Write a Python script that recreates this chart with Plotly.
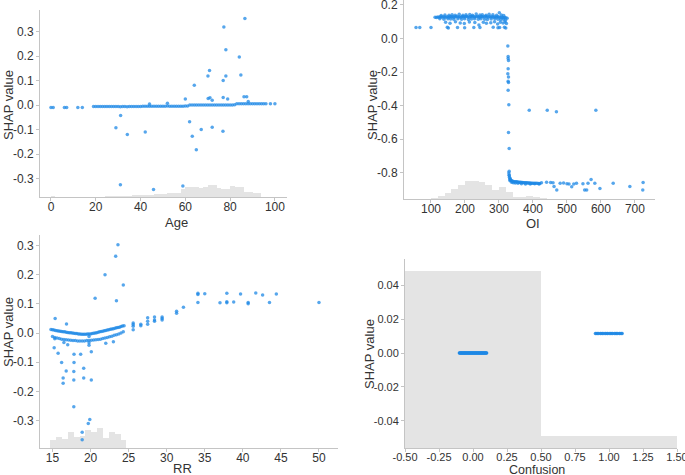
import plotly.graph_objects as go

# ---------------- DATA ----------------
# Panel 1: Age
age_band_x = [0, 1, 6, 7, 12, 14, 19, 20, 21, 22, 23, 24, 25, 26, 27, 28, 29, 30, 31, 32, 33, 34, 35, 36,
              37, 38, 39, 40, 41, 42, 43, 44, 45, 46, 47, 48, 49, 50, 51, 52, 53, 54, 55, 56, 57, 58, 59, 60,
              61, 62, 63, 64, 65, 66, 67, 68, 69, 70, 71, 72, 73, 74, 75, 76, 77, 78, 79, 80, 81, 82, 83, 84,
              85, 86, 87, 88, 89, 90, 91, 92, 93, 94, 95, 96, 98, 100]
age_band_y = [-0.010, -0.010, -0.010, -0.010, -0.010, -0.010, -0.006, -0.006, -0.006, -0.006, -0.006, -0.006,
              -0.006, -0.006, -0.006, -0.006, -0.006, -0.006, -0.007, -0.006, -0.006, -0.007, -0.006, -0.006,
              -0.006, -0.006, -0.006, -0.006, -0.005, -0.005, -0.005, -0.005, -0.005, -0.005, -0.005, -0.005,
              -0.005, -0.005, -0.005, -0.004, -0.005, -0.005, -0.005, -0.005, -0.005, -0.005, -0.005, -0.004,
              -0.004, 0.000, 0.000, 0.000, 0.000, 0.000, 0.000, 0.000, 0.000, 0.000, 0.000, 0.000, 0.000,
              0.000, 0.000, 0.000, 0.000, 0.000, 0.000, 0.000, 0.000, 0.001, 0.005, 0.005, 0.005, 0.005,
              0.005, 0.005, 0.005, 0.005, 0.005, 0.005, 0.005, 0.005, 0.005, 0.005, 0.005, 0.005]
age_out_x = [86.6, 77.2, 78.1, 84.1, 70.8, 70.1, 76.9, 78.1, 84.8, 64.0, 60.0, 70.2, 71.0, 72.0, 76.9, 78.9,
             86.2, 87.4, 88.1, 31.1, 29.0, 34.1, 42.1, 61.9, 63.1, 67.1, 72.0, 64.9, 76.8, 31.0, 45.8, 58.9,
             52.0, 44.0]
age_out_y = [0.353, 0.319, 0.226, 0.196, 0.141, 0.119, 0.100, 0.119, 0.123, 0.081, 0.025, 0.027, 0.030,
             0.020, 0.031, 0.025, 0.034, 0.034, 0.015, -0.042, -0.092, -0.120, -0.110, -0.068, -0.127,
             -0.100, -0.090, -0.182, -0.107, -0.325, -0.344, -0.330, 0.008, 0.004]
age_hist_edges = [0, 2, 4, 6, 8, 10, 12, 14, 16, 18, 20, 22, 24, 26, 28, 30, 32, 34, 36, 38, 40, 42, 44, 46,
                  48, 50, 52, 54, 56, 58, 60, 62, 64, 66, 68, 70, 72, 74, 76, 78, 80, 82, 84, 86, 88, 90, 92,
                  94, 96]
age_hist_counts = [10, 5, 4, 5, 3, 3, 4, 3, 3, 5, 5, 5, 6, 7, 9, 10, 12, 14, 16, 18, 20, 22, 24, 28, 31, 34,
                   36, 37, 44, 80, 100, 95, 98, 90, 96, 117, 123, 85, 84, 80, 110, 104, 104, 53, 50, 43, 42, 5]

# Panel 2: OI
oi_a_x = [112, 116, 120, 124, 128, 132, 136, 140, 144, 148, 152, 156, 160, 164, 168, 172, 176, 180, 184, 188,
          192, 196, 200, 204, 208, 212, 216, 220, 224, 228, 232, 236, 240, 244, 248, 252, 256, 260, 264, 268,
          272, 276, 280, 284, 288, 292, 296, 300, 304, 308, 312, 316, 320, 324]
oi_a_y = [0.126, 0.124, 0.127, 0.125, 0.128, 0.126, 0.129, 0.127, 0.125, 0.128, 0.126, 0.130, 0.127, 0.129,
          0.126, 0.128, 0.131, 0.127, 0.129, 0.126, 0.130, 0.128, 0.127, 0.131, 0.129, 0.126, 0.130, 0.128,
          0.132, 0.127, 0.129, 0.131, 0.128, 0.126, 0.130, 0.129, 0.127, 0.131, 0.128, 0.126, 0.130, 0.127,
          0.129, 0.125, 0.128, 0.126, 0.129, 0.127, 0.124, 0.126, 0.123, 0.125, 0.122, 0.120]
oi_b_x = [130, 141, 153, 162, 171, 183, 194, 203, 214, 222, 233, 244, 251, 262, 271, 282, 293, 301, 307, 314]
oi_b_y = [0.136, 0.139, 0.137, 0.141, 0.138, 0.143, 0.137, 0.140, 0.142, 0.138, 0.145, 0.139, 0.141, 0.137,
          0.143, 0.140, 0.138, 0.152, 0.139, 0.136]
oi_c_x = [126, 138, 150, 158, 167, 179, 190, 199, 210, 219, 228, 239, 247, 258, 266, 277, 288, 297, 305, 313,
          319]
oi_c_y = [0.116, 0.114, 0.117, 0.115, 0.113, 0.117, 0.114, 0.116, 0.112, 0.115, 0.117, 0.113, 0.116, 0.114,
          0.112, 0.115, 0.117, 0.113, 0.111, 0.114, 0.108]
oi_mid_x = [143, 156, 172, 186, 198, 213, 229, 241, 254, 263, 276, 287, 296, 304, 312, 318, 322]
oi_mid_y = [0.095, 0.090, 0.098, 0.092, 0.088, 0.097, 0.094, 0.080, 0.096, 0.090, 0.093, 0.099, 0.085, 0.095,
            0.091, 0.097, 0.088]
oi_low_x = [56, 67, 100, 148, 151, 178, 199, 226, 244, 283, 297, 302, 316, 320]
oi_low_y = [0.064, 0.064, 0.064, 0.066, 0.062, 0.064, 0.063, 0.065, 0.064, 0.066, 0.063, 0.064, 0.066, 0.062]
oi_drop_x = [326, 327, 327, 328, 327, 326, 328, 327, 328, 327, 329, 328, 330, 330, 330]
oi_drop_y = [-0.045, -0.108, -0.120, -0.132, -0.180, -0.210, -0.230, -0.255, -0.262, -0.308, -0.395, -0.560,
             -0.655, -0.790, -0.812]
oi_neg_x = [329, 330, 331, 332, 333, 334, 336, 338, 340, 343, 346, 349, 352, 355, 358, 361, 364, 367, 370, 373,
            376, 379, 382, 385, 388, 391, 394, 397, 400, 404, 408, 412, 416, 420,
            332, 337, 342, 348, 356, 366, 378, 392, 405, 418]
oi_neg_y = [-0.800, -0.815, -0.825, -0.832, -0.838, -0.842, -0.845, -0.848, -0.850, -0.851, -0.852, -0.853,
            -0.853, -0.854, -0.855, -0.855, -0.856, -0.857, -0.857, -0.858, -0.858, -0.859, -0.859, -0.860,
            -0.860, -0.860, -0.861, -0.861, -0.861, -0.862, -0.862, -0.862, -0.863, -0.863,
            -0.845, -0.855, -0.858, -0.860, -0.862, -0.864, -0.866, -0.866, -0.865, -0.866]
oi_scat_x = [389, 442, 469, 585, 425, 440, 452, 459, 462, 470, 480, 490, 500, 506, 514, 520, 528, 547, 552,
             558, 562, 571, 582, 597, 636, 685, 724, 723]
oi_scat_y = [-0.427, -0.427, -0.437, -0.427, -0.858, -0.855, -0.857, -0.859, -0.880, -0.902, -0.862, -0.860,
             -0.865, -0.866, -0.882, -0.866, -0.862, -0.864, -0.902, -0.902, -0.862, -0.839, -0.862, -0.892,
             -0.862, -0.880, -0.857, -0.902]
oi_hist_edges = [100, 120, 140, 160, 180, 200, 220, 240, 260, 280, 300, 320, 340, 360, 380, 400, 420, 440]
oi_hist_counts = [1, 3, 6, 10, 14, 18, 18, 17, 14, 9, 12, 7, 2, 2, 3, 2, 1]

# Panel 3: RR
rr_up_x = [14.8, 15.0, 15.2, 15.4, 15.6, 15.8, 16.0, 16.2, 16.4, 16.6, 16.8, 17.0, 17.2, 17.4, 17.6, 17.8,
           18.0, 18.2, 18.4, 18.6, 18.8, 19.0, 19.2, 19.4, 19.6, 19.8, 20.0, 20.2, 20.4, 20.6, 20.8, 21.0,
           21.2, 21.4, 21.6, 21.8, 22.0, 22.2, 22.4, 22.6, 22.8, 23.0, 23.2, 23.4, 23.6, 23.8, 24.0, 24.2, 24.4]
rr_up_y = [0.012, 0.011, 0.010, 0.009, 0.008, 0.007, 0.006, 0.005, 0.004, 0.004, 0.003, 0.002, 0.001, 0.001,
           0.000, -0.001, -0.002, -0.002, -0.003, -0.003, -0.004, -0.004, -0.004, -0.004, -0.003, -0.003,
           -0.003, -0.002, -0.001, 0.000, 0.001, 0.003, 0.004, 0.005, 0.006, 0.008, 0.009, 0.010, 0.011,
           0.013, 0.014, 0.015, 0.016, 0.018, 0.019, 0.020, 0.022, 0.024, 0.025]
rr_lo_x = [15.0, 15.3, 15.6, 15.9, 16.2, 16.5, 16.8, 17.1, 17.4, 17.7, 18.0, 18.3, 18.6, 18.9, 19.2, 19.5,
           19.8, 20.1, 20.4, 20.7, 21.0, 21.3, 21.6, 21.9, 22.2, 22.5, 22.8, 23.1, 23.4, 23.7, 24.0, 24.3,
           19.8, 19.8, 19.8, 15.3, 16.5, 17.0, 22.0, 23.0]
rr_lo_y = [-0.012, -0.015, -0.017, -0.019, -0.021, -0.022, -0.023, -0.024, -0.025, -0.026, -0.026, -0.027,
           -0.027, -0.027, -0.027, -0.026, -0.026, -0.025, -0.024, -0.023, -0.022, -0.021, -0.019, -0.017,
           -0.015, -0.013, -0.011, -0.008, -0.006, -0.003, 0.000, 0.004,
           -0.012, -0.033, -0.042, -0.020, -0.032, -0.040, -0.035, -0.030]
rr_hi_x = [25.6, 25.6, 25.6, 25.6, 26.6, 26.6, 27.5, 27.5, 27.5, 28.4, 28.4, 28.4, 29.4, 29.4, 29.4, 31.3,
           31.3, 32.2, 34.1, 34.1, 34.1, 35.0, 37.0, 37.9, 37.9, 37.9, 38.8, 39.7, 40.7, 40.7, 41.7, 42.6,
           43.5, 44.4, 50.0]
rr_hi_y = [0.034, 0.029, 0.023, 0.011, 0.030, 0.025, 0.052, 0.040, 0.030, 0.055, 0.045, 0.040, 0.055, 0.050,
           0.045, 0.075, 0.068, 0.088, 0.136, 0.132, 0.105, 0.135, 0.104, 0.136, 0.107, 0.104, 0.106, 0.134,
           0.105, 0.100, 0.137, 0.130, 0.105, 0.134, 0.105]
rr_out_x = [15.35, 16.84, 15.22, 15.74, 17.83, 18.7, 16.2, 17.83, 16.8, 17.8, 19.1, 20.1, 16.4, 16.4, 17.8,
            19.1, 20.1, 17.8, 19.9, 19.7, 18.9, 18.9, 20.6, 21.9, 23.3, 23.6, 24.3, 23.4]
rr_out_y = [0.050, 0.031, -0.050, -0.069, -0.073, -0.073, -0.101, -0.101, -0.130, -0.132, -0.121, -0.064,
            -0.154, -0.172, -0.161, -0.154, -0.161, -0.253, -0.296, -0.310, -0.340, -0.366, 0.119, 0.200,
            0.263, 0.303, 0.165, 0.111]
rr_hist_edges = [14.7, 15.47, 16.24, 17.01, 17.78, 18.55, 19.32, 20.09, 20.86, 21.63, 22.4, 23.17, 23.94, 24.71]
rr_hist_counts = [83, 110, 90, 157, 107, 123, 177, 160, 200, 100, 160, 140, 77]

# Panel 4: Confusion
conf_x0 = [-0.100, -0.095, -0.090, -0.085, -0.080, -0.075, -0.070, -0.065, -0.060, -0.055, -0.050, -0.045,
           -0.040, -0.035, -0.030, -0.025, -0.020, -0.015, -0.010, -0.005, 0.000, 0.005, 0.010, 0.015, 0.020,
           0.025, 0.030, 0.035, 0.040, 0.045, 0.050, 0.055, 0.060, 0.065, 0.070, 0.075, 0.080, 0.085, 0.090,
           0.095, 0.100]
conf_level0 = 0.0
conf_x1 = [0.900, 0.906, 0.916, 0.922, 0.935, 0.941, 0.951, 0.957, 0.970, 0.976, 0.986, 0.992, 1.005, 1.011,
           1.021, 1.027, 1.040, 1.046, 1.056, 1.062, 1.075, 1.081, 1.091, 1.097]
conf_level1 = 0.0115
conf_hist_edges = [-0.5, 0.5, 1.5]
conf_hist_counts = [1460, 100]

# tick labels
age_xt = [0, 20, 40, 60, 80, 100]
age_yt = [-0.3, -0.2, -0.1, 0.0, 0.1, 0.2, 0.3]
age_ytl = ["-0.3", "-0.2", "-0.1", "0.0", "0.1", "0.2", "0.3"]
oi_xt = [100, 200, 300, 400, 500, 600, 700]
oi_yt = [-0.8, -0.6, -0.4, -0.2, 0.0, 0.2]
oi_ytl = ["-0.8", "-0.6", "-0.4", "-0.2", "0.0", "0.2"]
rr_xt = [15, 20, 25, 30, 35, 40, 45, 50]
rr_yt = [-0.3, -0.2, -0.1, 0.0, 0.1, 0.2, 0.3]
rr_ytl = ["-0.3", "-0.2", "-0.1", "0.0", "0.1", "0.2", "0.3"]
conf_xt = [-0.5, -0.25, 0.0, 0.25, 0.5, 0.75, 1.0, 1.25, 1.5]
conf_xtl = ["-0.50", "-0.25", "0.00", "0.25", "0.50", "0.75", "1.00", "1.25", "1.50"]
conf_yt = [-0.04, -0.02, 0.0, 0.02, 0.04]
conf_ytl = ["-0.04", "-0.02", "0.00", "0.02", "0.04"]
x_titles = ["Age", "OI", "RR", "Confusion"]
y_title = "SHAP value"

# ---------------- FIGURE ----------------
BLUE = "#1E88E5"
HISTC = "#e4e4e4"
AX = "#c4c4c4"
TXT = "#333333"
W, H = 685, 475

fig = go.Figure()


def add_hist(edges, counts, xa, ya):
    centers = [(a + b) / 2 for a, b in zip(edges[:-1], edges[1:])]
    widths = [b - a for a, b in zip(edges[:-1], edges[1:])]
    fig.add_trace(go.Bar(x=centers, y=counts, width=widths, marker=dict(color=HISTC, line=dict(width=0)),
                         xaxis=xa, yaxis=ya, showlegend=False, hoverinfo="skip"))


def add_pts(x, y, xa, ya, opacity=0.75):
    fig.add_trace(go.Scatter(x=x, y=y, mode="markers",
                             marker=dict(color=BLUE, size=3.5, opacity=opacity, line=dict(width=0)),
                             xaxis=xa, yaxis=ya, showlegend=False))


# panel 1
add_hist(age_hist_edges, age_hist_counts, "x", "y")
add_pts(age_band_x, age_band_y, "x", "y5")
add_pts(age_out_x, age_out_y, "x", "y5")
# panel 2
add_hist(oi_hist_edges, oi_hist_counts, "x2", "y2")
for xs, ys in [(oi_a_x, oi_a_y), (oi_b_x, oi_b_y), (oi_c_x, oi_c_y), (oi_mid_x, oi_mid_y),
               (oi_low_x, oi_low_y), (oi_drop_x, oi_drop_y), (oi_neg_x, oi_neg_y), (oi_scat_x, oi_scat_y)]:
    add_pts(xs, ys, "x2", "y6")
# panel 3
add_hist(rr_hist_edges, rr_hist_counts, "x3", "y3")
for xs, ys in [(rr_up_x, rr_up_y), (rr_lo_x, rr_lo_y), (rr_hi_x, rr_hi_y), (rr_out_x, rr_out_y)]:
    add_pts(xs, ys, "x3", "y7")
# panel 4
add_hist(conf_hist_edges, conf_hist_counts, "x4", "y4")
add_pts(conf_x0, [conf_level0] * len(conf_x0), "x4", "y8", opacity=1.0)
add_pts(conf_x1, [conf_level1] * len(conf_x1), "x4", "y8", opacity=0.8)


def px_x(a, b):
    return [a / W, b / W]


def px_y(top, bottom):
    return [1 - bottom / H, 1 - top / H]


common = dict(showline=True, linecolor=AX, linewidth=1, ticks="outside", ticklen=3, tickcolor=AX,
              showgrid=False, zeroline=False, ticklabeloverflow="allow", automargin=False)
hidden = dict(visible=False, showgrid=False, zeroline=False, fixedrange=True, automargin=False)

panels = [
    # (xdom px, ydom px, xrange, yrange, hist max frac, counts, xt, xtl, yt, ytl,
    #  xtitle pos (cx, top), ytitle pos (cx, cy), xtitle size, tick size)
    ((40, 287), (10, 197), [-4.9, 105.4], [-0.375, 0.388], 0.066, age_hist_counts,
     age_xt, [str(v) for v in age_xt], age_yt, age_ytl, (176, 213), (8, 105), 13, 12),
    ((404, 655), (0, 199), [20.6, 759], [-0.955, 0.228], 0.092, oi_hist_counts,
     oi_xt, [str(v) for v in oi_xt], oi_yt, oi_ytl, (533, 214), (372, 105), 13, 12),
    ((40, 338), (235, 448), [13.36, 52.5], [-0.394, 0.336], 0.094, rr_hist_counts,
     rr_xt, [str(v) for v in rr_xt], rr_yt, rr_ytl, (182, 459), (8, 332), 13, 12),
    ((405, 677), (259, 448), [-0.5, 1.5], [-0.056, 0.0555], 0.937, conf_hist_counts,
     conf_xt, conf_xtl, conf_yt, conf_ytl, (537, 461), (369, 354), 12.5, 11),
]

layout = dict(width=W, height=H, margin=dict(l=0, r=0, t=0, b=0, pad=0, autoexpand=False),
              plot_bgcolor="white", paper_bgcolor="white",
              font=dict(family="Liberation Sans, Arial, sans-serif", color=TXT),
              showlegend=False, bargap=0)
annotations = []
for i, (xd, yd, xr, yr, frac, counts, xt, xtl, yt, ytl, xtp, ytp, xts, tks) in enumerate(panels, start=1):
    sfx = "" if i == 1 else str(i)
    tf = dict(size=tks, color=TXT)
    layout["xaxis" + sfx] = dict(common, domain=px_x(*xd), range=xr, anchor="y" + sfx, tickfont=tf,
                                 tickvals=xt, ticktext=xtl, ticklabelstandoff=-4)
    layout["yaxis" + sfx] = dict(hidden, domain=px_y(*yd), range=[0, max(counts) / frac], anchor="x" + sfx)
    layout["yaxis" + str(i + 4)] = dict(common, range=yr, overlaying="y" + sfx, anchor="x" + sfx,
                                        side="left", tickvals=yt, ticktext=ytl, tickfont=tf)
    annotations.append(dict(text=x_titles[i - 1], xref="paper", yref="paper", x=xtp[0] / W,
                            y=1 - xtp[1] / H, xanchor="center", yanchor="top", showarrow=False,
                            font=dict(size=xts, color=TXT)))
    annotations.append(dict(text=y_title, xref="paper", yref="paper", x=ytp[0] / W, y=1 - ytp[1] / H,
                            xanchor="center", yanchor="middle", textangle=-90, showarrow=False,
                            font=dict(size=13, color=TXT)))
layout["annotations"] = annotations

fig.update_layout(**layout)
fig.write_html("out.html", config={"displayModeBar": False, "staticPlot": True},
               post_script="document.body.style.margin='0';document.body.style.overflow='hidden';")
